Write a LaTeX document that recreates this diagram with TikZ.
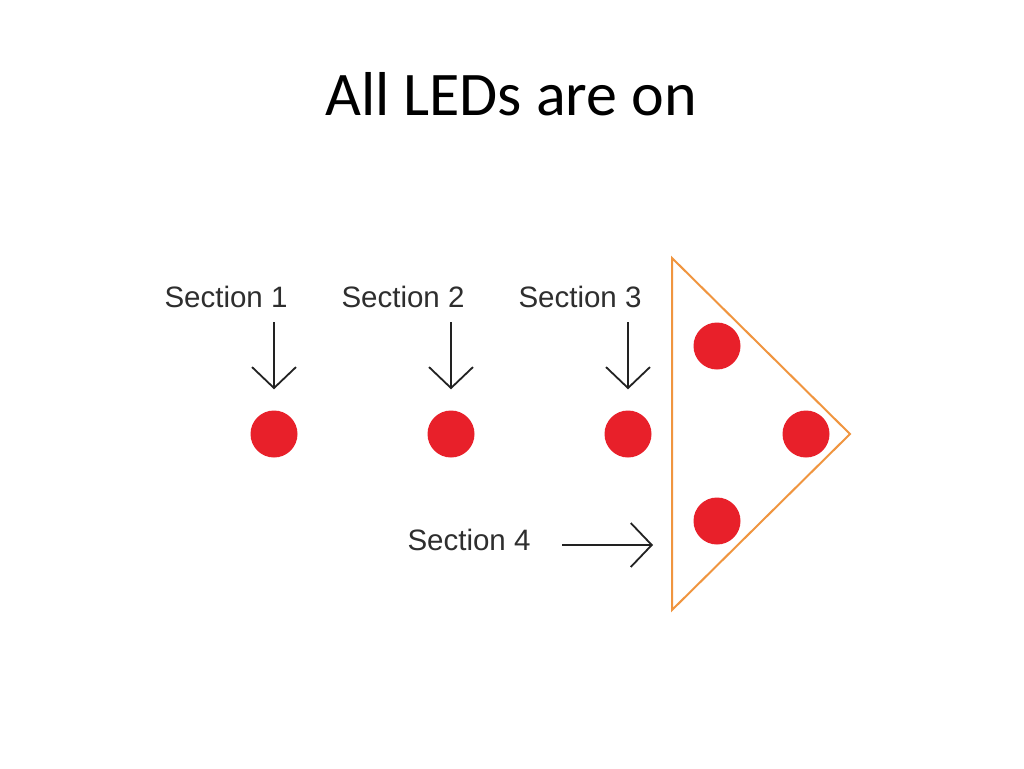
\documentclass[tikz,border=0pt]{standalone}
\usepackage{fontspec}
\setmainfont{Liberation Sans}
\newfontfamily\titlefont{Carlito}
\usetikzlibrary{arrows.meta}
\definecolor{ledred}{HTML}{E8202A}
\definecolor{triorange}{HTML}{F0953F}
\definecolor{labgrey}{HTML}{2E2E2E}
\definecolor{arrowgrey}{HTML}{222222}
\begin{document}
\begin{tikzpicture}[x=1pt,y=-1pt,
  led/.style={circle,fill=ledred,draw=none,minimum size=47pt,inner sep=0pt},
  seclabel/.style={anchor=base,text=labgrey,font=\fontsize{29.5}{34}\selectfont,inner sep=0pt},
  pointer/.style={draw=arrowgrey,line width=1.8pt,-{Straight Barb[length=21pt,width=44pt,line width=1.8pt]}}]
\useasboundingbox[fill=white] (0,0) rectangle (1024,768);
\node[anchor=base,font=\titlefont\fontsize{62}{70}\selectfont,inner sep=0pt] (title) at (511,115) {All LEDs are on};
% triangle
\coordinate (tA) at (672,258);
\coordinate (tB) at (672,610);
\coordinate (tC) at (850,434);
\draw[triorange,line width=2pt,line join=miter] (tA) -- (tC) -- (tB) -- cycle;
% LEDs
\node[led] (d1) at (274,434) {};
\node[led] (d2) at (451,434) {};
\node[led] (d3) at (628,434) {};
\node[led] (d4) at (717,346) {};
\node[led] (d5) at (806,434) {};
\node[led] (d6) at (717,521) {};
% labels
\node[seclabel] (s1) at (226,307) {Section 1};
\node[seclabel] (s2) at (403,307) {Section 2};
\node[seclabel] (s3) at (580,307) {Section 3};
\node[seclabel] (s4) at (469,550) {Section 4};
% arrows
\coordinate (a1) at (274,322);
\coordinate (a2) at (451,322);
\coordinate (a3) at (628,322);
\coordinate (a4) at (562,545);
\coordinate (e4) at (653,545);
\draw[pointer,shorten >=21pt] (a1) -- (d1);
\draw[pointer,shorten >=21pt] (a2) -- (d2);
\draw[pointer,shorten >=21pt] (a3) -- (d3);
\draw[pointer] (a4) -- (e4);
\end{tikzpicture}
\end{document}
